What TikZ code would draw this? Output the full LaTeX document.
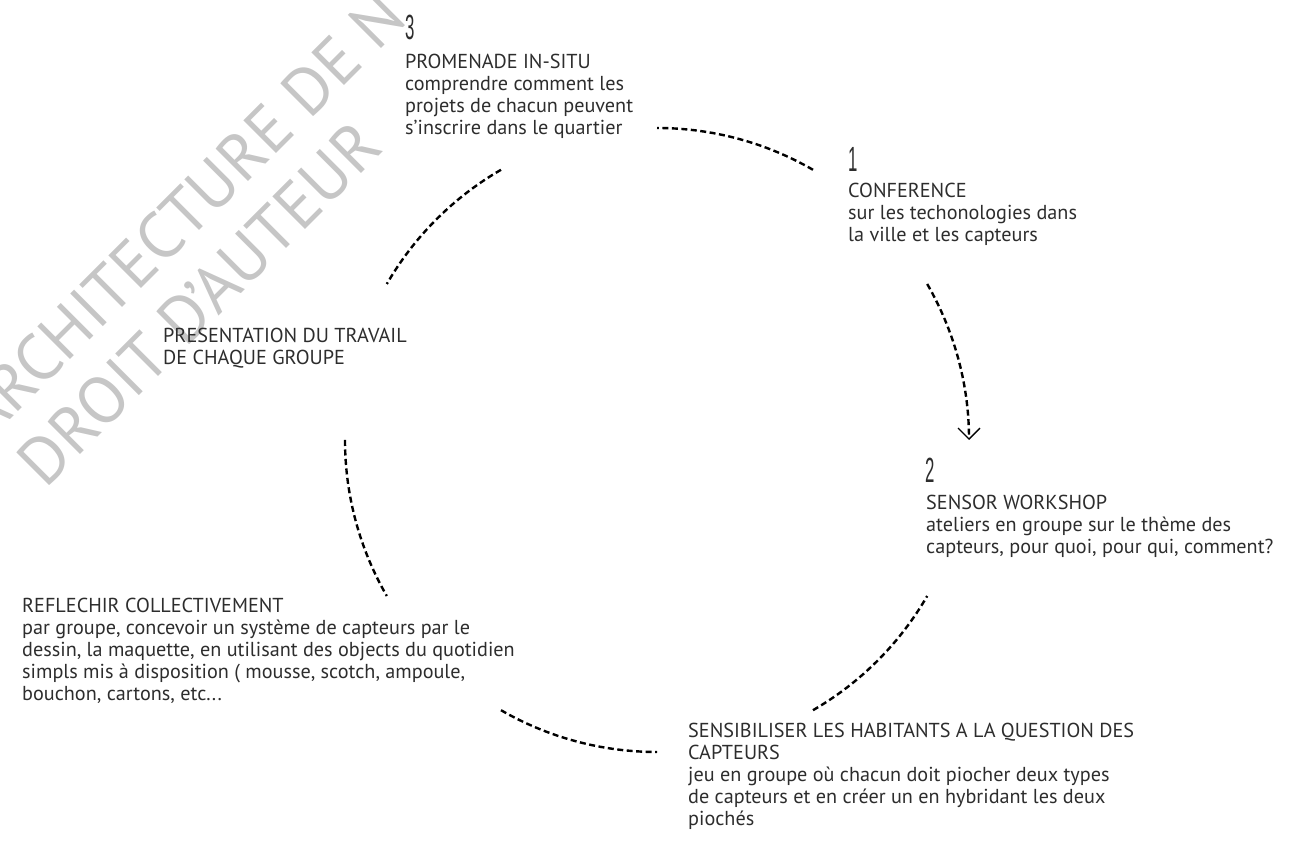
\documentclass[tikz,border=0pt]{standalone}
\usepackage{fontspec}
\setmainfont{PT Sans}
\newfontfamily\numfont{Liberation Sans}
\usetikzlibrary{arrows.meta,calc}
\definecolor{txt}{RGB}{45,45,45}
\definecolor{wm}{RGB}{198,198,198}
\tikzset{
  lbl/.style={anchor=north west, inner sep=0pt, align=left, text=txt, font=\fontsize{20.2}{22}\selectfont},
  num/.style={anchor=south west, inner sep=0pt, text=txt, font=\numfont\fontsize{35}{35}\selectfont, xscale=0.48},
  wmark/.style={rotate=45, inner sep=0pt, text=wm, font=\fontsize{66}{66}\selectfont},
  dsh/.style={line width=2.4pt, dash pattern=on 6pt off 3.5pt, black},
}
\begin{document}
\begin{tikzpicture}[x=1pt,y=1pt]
\useasboundingbox (0,0) rectangle (1291,845);
\clip (0,0) rectangle (1291,845);
% watermark
\node[wmark, anchor=base west] (wm1) at (-13,402) {ARCHITECTURE DE N};
\node[wmark, anchor=base east] (wm2) at (385,695) {DROIT D'AUTEUR};
% texts
\node[num] (n3) at (405,805) {3};
\node[lbl] (promenade) at (405,791) {PROMENADE IN-SITU\\comprendre comment les\\projets de chacun peuvent\\s’inscrire dans le quartier};
\node[num] (n1) at (848,673) {1};
\node[lbl] (conference) at (848,662) {CONFERENCE\\sur les techonologies dans\\la ville et les capteurs};
\node[num] (n2) at (925,362) {2};
\node[lbl] (sensor) at (926,350) {SENSOR WORKSHOP\\ateliers en groupe sur le thème des\\capteurs, pour quoi, pour qui, comment?};
\node[lbl] (presentation) at (163,517) {PRESENTATION DU TRAVAIL\\DE CHAQUE GROUPE};
\node[lbl] (reflechir) at (22,247) {REFLECHIR COLLECTIVEMENT\\par groupe, concevoir un système de capteurs par le\\dessin, la maquette, en utilisant des objects du quotidien\\simpls mis à disposition ( mousse, scotch, ampoule,\\bouchon, cartons, etc...};
\node[lbl] (sensibiliser) at (688,122) {SENSIBILISER LES HABITANTS A LA QUESTION DES\\CAPTEURS\\jeu en groupe où chacun doit piocher deux types\\de capteurs et en créer un en hybridant les deux\\piochés};
% circle arcs
\coordinate (C) at (657,405);
\coordinate (a60) at ($(C)+(60:312)$);
\coordinate (a30) at ($(C)+(30:312)$);
\coordinate (am60) at ($(C)+(-60:312)$);
\coordinate (am120) at ($(C)+(-120:312)$);
\coordinate (a180) at ($(C)+(180:312)$);
\coordinate (a120) at ($(C)+(120:312)$);
\draw[dsh] (a60) arc[start angle=60, end angle=90, radius=312pt];
\draw[dsh, -{Straight Barb[length=11pt, width=22pt, line width=1.3pt]}] (a30) arc[start angle=30, end angle=0, radius=312pt];
\draw[dsh] (am60) arc[start angle=-60, end angle=-30, radius=312pt];
\draw[dsh] (am120) arc[start angle=-120, end angle=-90, radius=312pt];
\draw[dsh] (a180) arc[start angle=180, end angle=210, radius=312pt];
\draw[dsh] (a120) arc[start angle=120, end angle=150, radius=312pt];
\end{tikzpicture}
\end{document}
